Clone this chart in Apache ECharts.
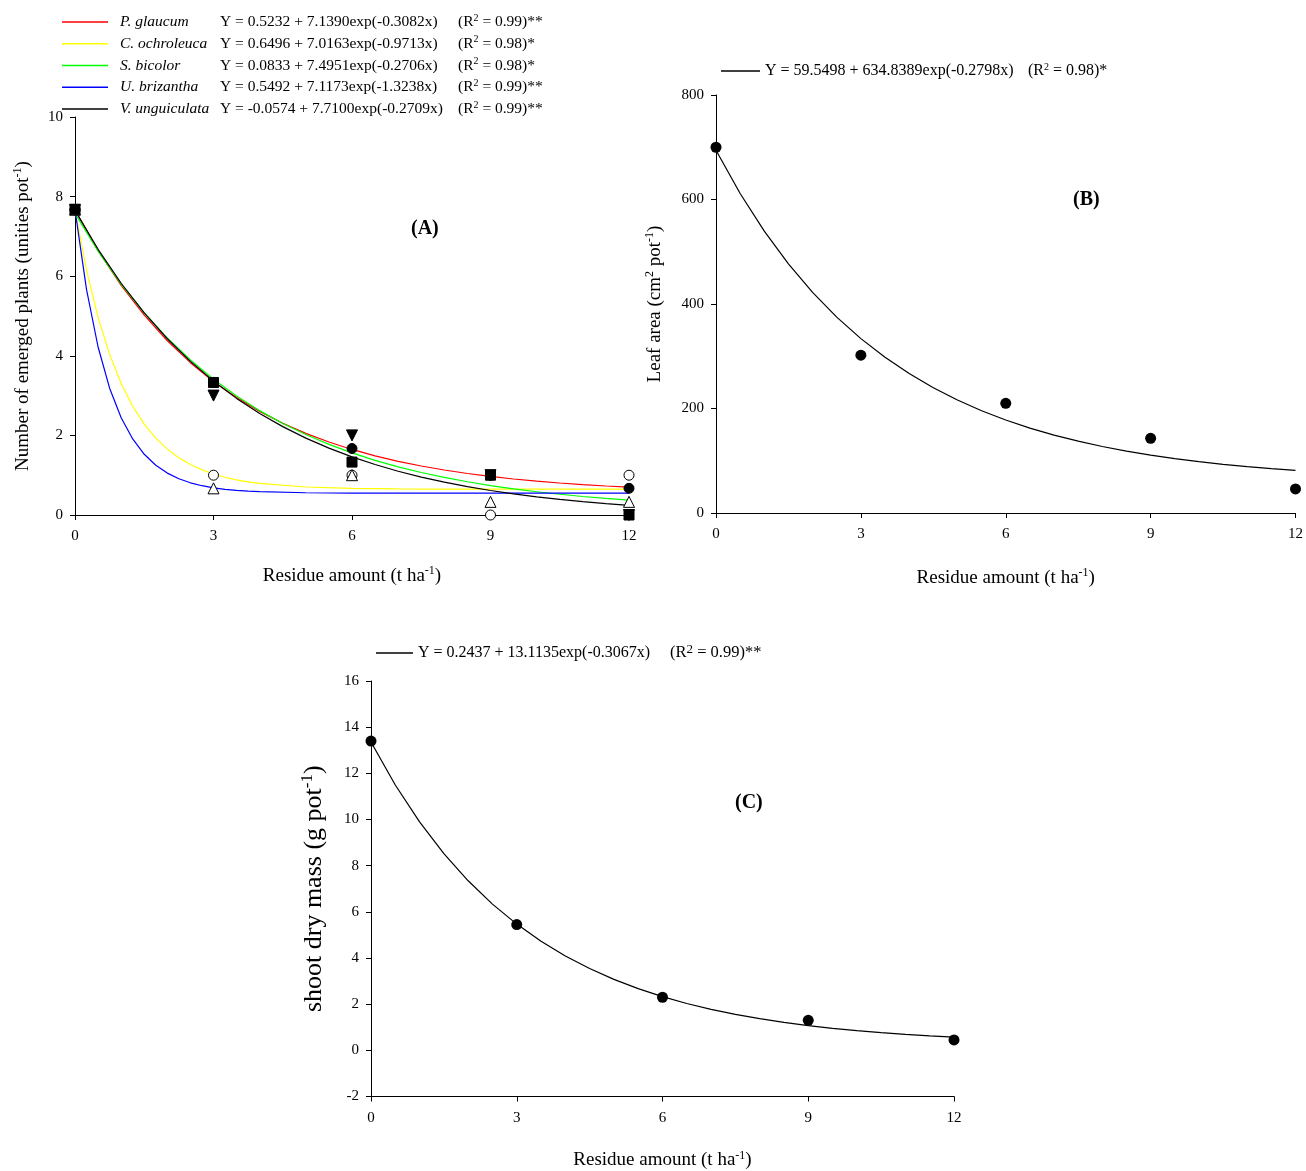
<!DOCTYPE html>
<html><head><meta charset="utf-8">
<script src="https://cdn.jsdelivr.net/npm/echarts@6/dist/echarts.min.js"></script>
<style>html,body{margin:0;padding:0;background:#fff}#c{width:1306px;height:1171px}</style>
</head><body><div id="c"></div>
<script>
// ---------- DATA ----------
const xTicks = [0, 3, 6, 9, 12];
const xObs = [0, 3, 6, 9, 12];

// Panel A: observed number of emerged plants
const speciesA = ['P. glaucum', 'C. ochroleuca', 'S. bicolor', 'U. brizantha', 'V. unguiculata'];
const equationsA = [
  'Y = 0.5232 + 7.1390exp(-0.3082x)',
  'Y = 0.6496 + 7.0163exp(-0.9713x)',
  'Y = 0.0833 + 7.4951exp(-0.2706x)',
  'Y = 0.5492 + 7.1173exp(-1.3238x)',
  'Y = -0.0574 + 7.7100exp(-0.2709x)'
];
const r2A = ['0.99)**', '0.98)*', '0.98)*', '0.99)**', '0.99)**'];
const obsPglaucum = [7.67, 3.33, 1.67, 1.0, 0.67];
const obsCochroleuca = [7.67, 1.0, 1.0, 0.0, 1.0];
const obsSbicolor = [7.67, 3.0, 2.0, 1.0, 0.0];
const obsUbrizantha = [7.67, 0.67, 1.0, 0.33, 0.33];
const obsVunguiculata = [7.67, 3.33, 1.33, 1.0, 0.0];

// fitted curves
const xSlow = [0,0.5,1,1.5,2,2.5,3,3.5,4,4.5,5,5.5,6,6.5,7,7.5,8,8.5,9,9.5,10,10.5,11,11.5,12];
const fitPglaucum = [7.662,6.643,5.769,5.020,4.378,3.827,3.355,2.951,2.604,2.307,2.052,1.834,1.647,1.486,1.349,1.231,1.130,1.043,0.969,0.905,0.851,0.804,0.764,0.729,0.700];
const fitSbicolor = [7.578,6.630,5.801,5.078,4.446,3.894,3.412,2.990,2.622,2.301,2.021,1.775,1.561,1.374,1.211,1.068,0.944,0.835,0.740,0.657,0.584,0.521,0.465,0.417,0.375];
const fitVunguiculata = [7.653,6.676,5.823,5.078,4.428,3.859,3.363,2.930,2.551,2.221,1.932,1.680,1.460,1.268,1.100,0.953,0.825,0.714,0.616,0.531,0.456,0.391,0.334,0.285,0.241];
const xFast = [0,0.25,0.5,0.75,1,1.25,1.5,1.75,2,2.25,2.5,2.75,3,3.25,3.5,3.75,4,5,6,7,8,10,12];
const fitCochroleuca = [7.666,6.153,4.967,4.036,3.306,2.733,2.284,1.932,1.655,1.438,1.268,1.135,1.030,0.948,0.884,0.833,0.794,0.704,0.670,0.657,0.652,0.650,0.650];
const fitUbrizantha = [7.667,5.661,4.221,3.186,2.443,1.910,1.526,1.251,1.053,0.911,0.809,0.736,0.683,0.646,0.618,0.599,0.585,0.559,0.552,0.550,0.549,0.549,0.549];

// Panel B: leaf area
const obsLeafArea = [700, 302, 210, 143, 46];
const fitLeafArea = [694.39,611.50,539.45,476.80,422.32,374.96,333.78,297.98,266.85,239.79,216.25,195.80,178.01,162.55,149.10,137.41,127.24,118.41,110.72,104.04,98.23,93.18,88.79,84.97,81.66];
const eqB = 'Y = 59.5498 + 634.8389exp(-0.2798x)';
const r2B = '0.98)*';

// Panel C: shoot dry mass
const obsShoot = [13.4, 5.45, 2.3, 1.3, 0.45];
const fitShoot = [13.357,11.493,9.894,8.522,7.345,6.335,5.469,4.726,4.089,3.542,3.073,2.671,2.326,2.030,1.776,1.558,1.371,1.211,1.073,0.955,0.854,0.767,0.693,0.629,0.574];
const eqC = 'Y = 0.2437 + 13.1135exp(-0.3067x)';
const r2C = '0.99)**';

// ---------- CHART ----------
const F = 'Liberation Serif';
const pairs = (xs, ys) => xs.map((x, i) => [x, ys[i]]);
const colorsA = ['#ff0000', '#ffff00', '#00ff00', '#0000ff', '#000000'];
const fitsA = [pairs(xSlow, fitPglaucum), pairs(xFast, fitCochroleuca), pairs(xSlow, fitSbicolor), pairs(xFast, fitUbrizantha), pairs(xSlow, fitVunguiculata)];
const obsA = [obsPglaucum, obsCochroleuca, obsSbicolor, obsUbrizantha, obsVunguiculata];
const symA = [
  {symbol: 'circle', fill: '#000', size: 10, rot: 0},
  {symbol: 'circle', fill: '#fff', size: 10, rot: 0},
  {symbol: 'triangle', fill: '#000', size: 11, rot: 180},
  {symbol: 'triangle', fill: '#fff', size: 11, rot: 0},
  {symbol: 'rect', fill: '#000', size: 10, rot: 0}
];

const axisCommon = {
  axisLine: {show: true, onZero: false, lineStyle: {color: '#000', width: 1}},
  axisTick: {show: true, length: 5, lineStyle: {color: '#000'}},
  splitLine: {show: false},
  axisLabel: {color: '#000', fontFamily: F, fontSize: 15}
};
const nameRich = {
  n: {fontFamily: F, fontSize: 19, color: '#000', lineHeight: 22},
  s: {fontFamily: F, fontSize: 12, color: '#000', verticalAlign: 'top', lineHeight: 12}
};
const nameRichC = {
  n: {fontFamily: F, fontSize: 26, color: '#000', lineHeight: 30},
  s: {fontFamily: F, fontSize: 17, color: '#000', verticalAlign: 'top', lineHeight: 17}
};
function xAx(idx, gap) {
  return Object.assign({}, axisCommon, {
    type: 'value', gridIndex: idx, min: 0, max: 12, interval: 3,
    name: '{n|Residue amount (t ha}{s|-1}{n|)}', nameLocation: 'middle', nameGap: gap,
    nameTextStyle: {rich: nameRich},
    axisLabel: Object.assign({}, axisCommon.axisLabel, {margin: 14})
  });
}

const series = [];
for (let i = 0; i < 5; i++) {
  series.push({
    name: speciesA[i], type: 'line', xAxisIndex: 0, yAxisIndex: 0,
    data: fitsA[i], showSymbol: false, smooth: false,
    lineStyle: {color: colorsA[i], width: 1.2}, itemStyle: {color: colorsA[i]},
    z: 2, silent: true
  });
}
for (let i = 0; i < 5; i++) {
  series.push({
    type: 'scatter', xAxisIndex: 0, yAxisIndex: 0,
    data: pairs(xObs, obsA[i]), symbol: symA[i].symbol, symbolSize: symA[i].size,
    symbolRotate: symA[i].rot,
    itemStyle: {color: symA[i].fill, borderColor: '#000', borderWidth: 1, opacity: 1},
    z: 3 + i
  });
}
series.push({
  name: 'B', type: 'line', xAxisIndex: 1, yAxisIndex: 1, data: pairs(xSlow, fitLeafArea),
  showSymbol: false, smooth: false, lineStyle: {color: '#000', width: 1.2}, itemStyle: {color: '#000'}
});
series.push({
  type: 'scatter', xAxisIndex: 1, yAxisIndex: 1, data: pairs(xObs, obsLeafArea),
  symbol: 'circle', symbolSize: 11, itemStyle: {color: '#000', opacity: 1}
});
series.push({
  name: 'C', type: 'line', xAxisIndex: 2, yAxisIndex: 2, data: pairs(xSlow, fitShoot),
  showSymbol: false, smooth: false, lineStyle: {color: '#000', width: 1.2}, itemStyle: {color: '#000'}
});
series.push({
  type: 'scatter', xAxisIndex: 2, yAxisIndex: 2, data: pairs(xObs, obsShoot),
  symbol: 'circle', symbolSize: 11, itemStyle: {color: '#000', opacity: 1}
});

const legRich = {
  sp: {fontFamily: F, fontStyle: 'italic', fontSize: 15.5, color: '#000', width: 100, lineHeight: 18, padding: [0, 0, 0, 7]},
  eq: {fontFamily: F, fontSize: 15.5, color: '#000', width: 238, lineHeight: 18},
  t: {fontFamily: F, fontSize: 15.5, color: '#000', lineHeight: 18},
  s: {fontFamily: F, fontSize: 10, color: '#000', verticalAlign: 'top', lineHeight: 10}
};
const legRichB = {
  eq: {fontFamily: F, fontSize: 16, color: '#000', width: 263, lineHeight: 18},
  t: {fontFamily: F, fontSize: 16, color: '#000', lineHeight: 18},
  s: {fontFamily: F, fontSize: 10, color: '#000', verticalAlign: 'top', lineHeight: 10}
};
const legRichC = {
  eq: {fontFamily: F, fontSize: 16, color: '#000', width: 252, lineHeight: 20},
  t: {fontFamily: F, fontSize: 16.5, color: '#000', lineHeight: 20},
  s: {fontFamily: F, fontSize: 13, color: '#000', verticalAlign: 'top', lineHeight: 13}
};

const option = {
  backgroundColor: '#fff',
  animation: false,
  title: [
    {text: '(A)', left: 406, top: 214, textStyle: {fontFamily: F, fontSize: 20, fontWeight: 'bold', color: '#000'}},
    {text: '(B)', left: 1068, top: 185, textStyle: {fontFamily: F, fontSize: 20, fontWeight: 'bold', color: '#000'}},
    {text: '(C)', left: 730, top: 788, textStyle: {fontFamily: F, fontSize: 20, fontWeight: 'bold', color: '#000'}}
  ],
  legend: [
    {
      data: speciesA.map((n, i) => ({name: n, icon: 'rect', itemStyle: {color: colorsA[i]}})),
      orient: 'vertical', left: 62, top: 13, itemWidth: 46, itemHeight: 1.3, itemGap: 4.75,
      selectedMode: false,
      formatter: name => {
        const i = speciesA.indexOf(name);
        return '{sp|' + name + '}{eq|' + equationsA[i] + '}{t|(R}{s|2}{t| = ' + r2A[i] + '}';
      },
      textStyle: {rich: legRich}, padding: 0
    },
    {
      data: [{name: 'B', icon: 'rect', itemStyle: {color: '#000'}}],
      left: 721, top: 62, itemWidth: 39, itemHeight: 1.3, selectedMode: false, padding: 0,
      formatter: () => '{eq|' + eqB + '}{t|(R}{s|2}{t| = ' + r2B + '}',
      textStyle: {rich: legRichB}
    },
    {
      data: [{name: 'C', icon: 'rect', itemStyle: {color: '#000'}}],
      left: 376, top: 643, itemWidth: 37, itemHeight: 1.3, selectedMode: false, padding: 0,
      formatter: () => '{eq|' + eqC + '}{t|(R}{s|2}{t| = ' + r2C + '}',
      textStyle: {rich: legRichC}
    }
  ],
  grid: [
    {left: 75, right: 677, top: 117, bottom: 656},
    {left: 716, right: 9, top: 95, bottom: 658},
    {left: 371, right: 352, top: 681, bottom: 72}
  ],
  xAxis: [xAx(0, 50), xAx(1, 54), xAx(2, 53)],
  yAxis: [
    Object.assign({}, axisCommon, {
      type: 'value', gridIndex: 0, min: 0, max: 10, interval: 2,
      name: '{n|Number of emerged plants (unities pot}{s|-1}{n|)}', nameLocation: 'middle', nameGap: 41,
      nameTextStyle: {rich: nameRich}, axisLabel: Object.assign({}, axisCommon.axisLabel, {margin: 12})
    }),
    Object.assign({}, axisCommon, {
      type: 'value', gridIndex: 1, min: 0, max: 800, interval: 200,
      name: '{n|Leaf area (cm}{s|2}{n| pot}{s|-1}{n|)}', nameLocation: 'middle', nameGap: 50,
      nameTextStyle: {rich: nameRich}, axisLabel: Object.assign({}, axisCommon.axisLabel, {margin: 12})
    }),
    Object.assign({}, axisCommon, {
      type: 'value', gridIndex: 2, min: -2, max: 16, interval: 2,
      name: '{n|shoot dry mass (g pot}{s|-1}{n|)}', nameLocation: 'middle', nameGap: 42,
      nameTextStyle: {rich: nameRichC}, axisLabel: Object.assign({}, axisCommon.axisLabel, {margin: 12})
    })
  ],
  series: series
};
const chart = echarts.init(document.getElementById('c'), null, {renderer: 'canvas'});
chart.setOption(option);
</script>
</body></html>
